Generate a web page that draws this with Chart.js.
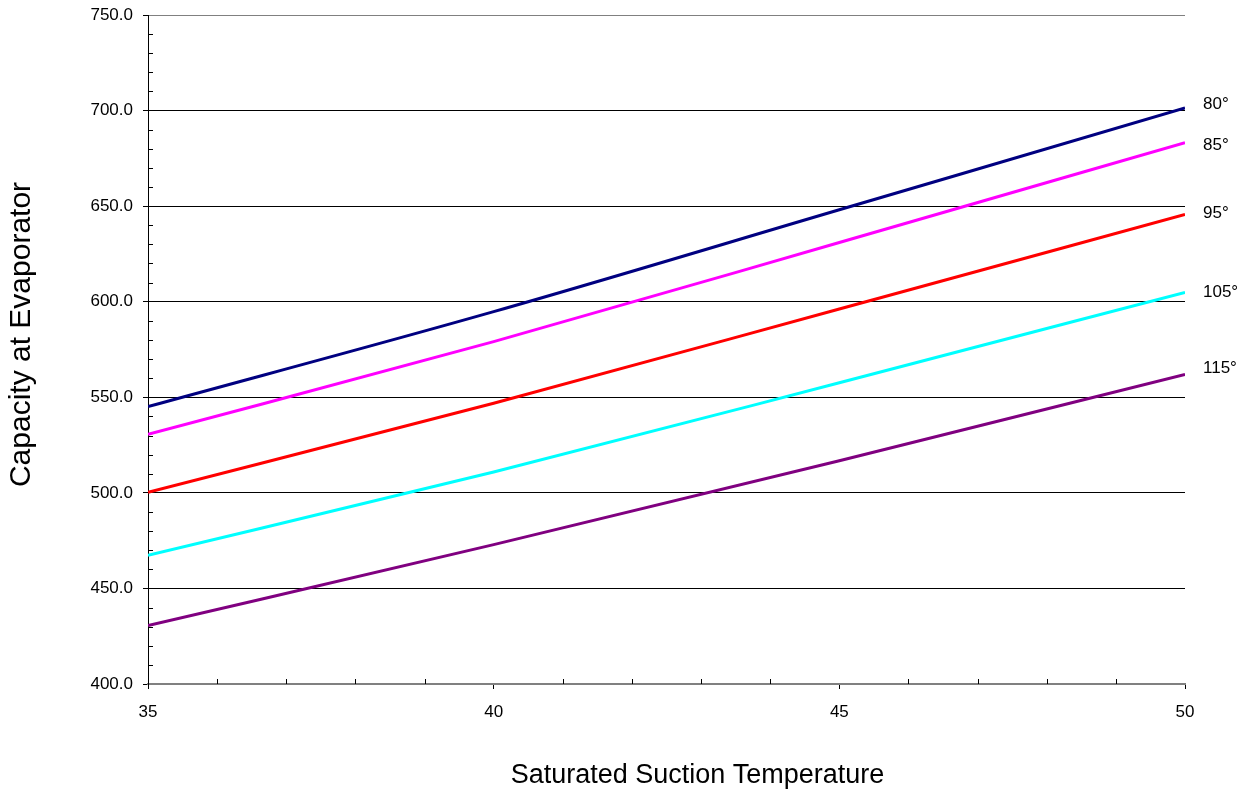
<!DOCTYPE html>
<html>
<head>
<meta charset="utf-8">
<script src="https://cdn.jsdelivr.net/npm/chart.js@4.4.1/dist/chart.umd.min.js"></script>
<style>
  html, body { margin: 0; padding: 0; background: #ffffff; }
  #wrap { width: 1251px; height: 792px; }
</style>
</head>
<body>
<div id="wrap"><canvas id="c" width="1251" height="792"></canvas></div>
<script>
// ---- data ----
const temps = [35, 40, 45, 50];
const seriesNames = ['80°', '85°', '95°', '105°', '115°'];
const cap80  = [545.1, 594.8, 648.1, 701.4];
const cap85  = [530.6, 579.1, 631.0, 683.2];
const cap95  = [500.3, 546.9, 596.2, 645.6];
const cap105 = [467.3, 510.9, 557.6, 604.9];
const cap115 = [430.6, 472.9, 516.8, 562.0];
const seriesColors = ['#000080', '#FF00FF', '#FF0000', '#00FFFF', '#800080'];
const xTickValues = [35, 40, 45, 50];
const yTickValues = [400, 450, 500, 550, 600, 650, 700, 750];

// style: vertical nudge of each end label (pixels)
const labelNudge = [-4, 3, -1.5, -0.5, -6];

const allSeries = [cap80, cap85, cap95, cap105, cap115];

const datasets = allSeries.map((vals, i) => ({
  label: seriesNames[i],
  data: temps.map((t, j) => ({ x: t, y: vals[j] })),
  borderColor: seriesColors[i],
  backgroundColor: seriesColors[i],
  borderWidth: 3,
  pointRadius: 0,
  fill: false,
  cubicInterpolationMode: 'monotone'
}));

const FONT = '"Liberation Sans", Arial, sans-serif';

const minorTicks = {
  id: 'minorTicks',
  afterDraw(chart) {
    const ctx = chart.ctx;
    const xs = chart.scales.x, ys = chart.scales.y;
    const area = chart.chartArea;
    ctx.save();
    ctx.strokeStyle = '#000000';
    ctx.lineWidth = 1;
    for (let v = ys.min; v <= ys.max; v += 10) {
      if (v % 50 === 0) continue;
      const py = Math.round(ys.getPixelForValue(v)) + 0.5;
      ctx.beginPath();
      ctx.moveTo(area.left, py);
      ctx.lineTo(area.left + 5, py);
      ctx.stroke();
    }
    for (let v = xs.min; v <= xs.max; v += 1) {
      if (v % 5 === 0) continue;
      const px = Math.round(xs.getPixelForValue(v)) + 0.5;
      ctx.beginPath();
      ctx.moveTo(px, area.bottom);
      ctx.lineTo(px, area.bottom - 5);
      ctx.stroke();
    }
    ctx.restore();
  }
};

const endLabels = {
  id: 'endLabels',
  afterDatasetsDraw(chart) {
    const ctx = chart.ctx;
    ctx.save();
    ctx.font = '17px ' + FONT;
    ctx.fillStyle = '#000000';
    ctx.textAlign = 'left';
    ctx.textBaseline = 'middle';
    chart.data.datasets.forEach((ds, i) => {
      const meta = chart.getDatasetMeta(i);
      const pt = meta.data[meta.data.length - 1];
      ctx.fillText(ds.label, pt.x + 18, pt.y + labelNudge[i]);
    });
    ctx.restore();
  }
};

// shift the built-in axis titles to the reference's off-centre positions
const titleShift = {
  id: 'titleShift',
  afterLayout(chart) {
    const shifts = { x: [31, 2], y: [0, -15] };
    Object.keys(shifts).forEach((id) => {
      const s = chart.scales[id];
      if (!s || s._titleShifted) return;
      const orig = s.drawTitle.bind(s);
      s.drawTitle = function () {
        const ctx = this.ctx;
        ctx.save();
        ctx.translate(shifts[id][0], shifts[id][1]);
        orig();
        ctx.restore();
      };
      s._titleShifted = true;
    });
  }
};

new Chart(document.getElementById('c'), {
  type: 'line',
  data: { datasets },
  options: {
    responsive: false,
    animation: false,
    devicePixelRatio: 1,
    layout: { padding: { left: 0, right: 66, top: 15, bottom: 0 } },
    plugins: {
      legend: { display: false },
      tooltip: { enabled: false }
    },
    scales: {
      x: {
        type: 'linear',
        min: 35,
        max: 50,
        afterFit(scale) { scale.height = 108; scale.paddingLeft = 0; scale.paddingRight = 0; },
        afterBuildTicks(scale) { scale.ticks = xTickValues.map(v => ({ value: v })); },
        ticks: {
          color: '#000000',
          font: { family: FONT, size: 17 },
          padding: 13,
          maxRotation: 0,
          callback: (v) => String(v)
        },
        grid: {
          drawOnChartArea: false,
          drawTicks: true,
          tickLength: 5,
          tickColor: '#000000'
        },
        border: { display: true, color: '#808080', width: 2 },
        title: {
          display: true,
          text: 'Saturated Suction Temperature',
          color: '#000000',
          font: { family: FONT, size: 27 },
          padding: { top: 0, bottom: 2 }
        }
      },
      y: {
        type: 'linear',
        min: 400,
        max: 750,
        afterFit(scale) { scale.width = 148; scale.paddingTop = 0; scale.paddingBottom = 0; },
        afterBuildTicks(scale) { scale.ticks = yTickValues.map(v => ({ value: v })); },
        ticks: {
          color: '#000000',
          font: { family: FONT, size: 17 },
          padding: 10,
          callback: (v) => Number(v).toFixed(1)
        },
        grid: {
          color: (ctx) => (ctx.tick && (ctx.tick.value === 750 || ctx.tick.value === 400)) ? '#808080' : '#000000',
          lineWidth: 1,
          drawTicks: true,
          tickLength: 5,
          tickColor: '#000000'
        },
        border: { display: true, color: '#000000', width: 1 },
        title: {
          display: true,
          text: 'Capacity at Evaporator',
          color: '#000000',
          font: { family: FONT, size: 30 },
          padding: { top: 4, bottom: 0 }
        }
      }
    }
  },
  plugins: [minorTicks, endLabels, titleShift]
});
</script>
</body>
</html>
